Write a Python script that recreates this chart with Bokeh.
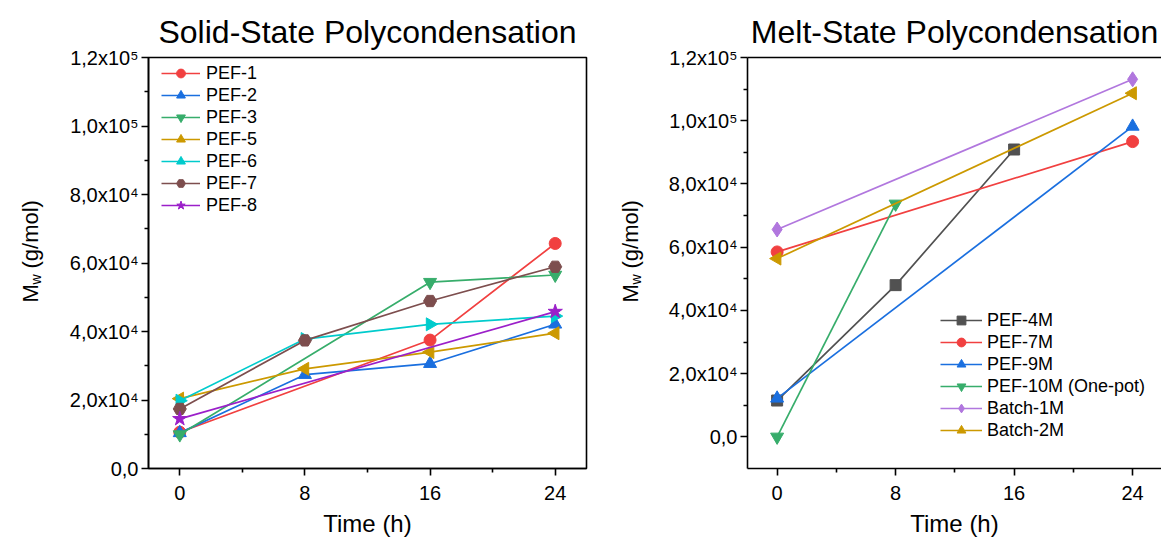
import math
from bokeh.plotting import figure
from bokeh.models import (FixedTicker, Legend, LegendItem, Label, LinearAxis, Range1d)
from bokeh.layouts import row
from bokeh.embed import file_html
from bokeh.resources import INLINE

FONT = "Liberation Sans"

# ---------------- data: Solid-State Polycondensation ----------------
pef1_t = [0, 16, 24]
pef1_mw = [10600, 37500, 65700]
pef2_t = [0, 8, 16, 24]
pef2_mw = [10400, 27400, 30600, 42100]
pef3_t = [0, 16, 24]
pef3_mw = [9900, 54400, 56500]
pef5_t = [0, 8, 16, 24]
pef5_mw = [20400, 29100, 34000, 39500]
pef6_t = [0, 8, 16, 24]
pef6_mw = [19800, 37800, 42100, 44500]
pef7_t = [0, 8, 16, 24]
pef7_mw = [17400, 37400, 48900, 58900]
pef8_t = [0, 24]
pef8_mw = [14500, 45800]

# ---------------- data: Melt-State Polycondensation ----------------
pef4m_t = [0, 8, 16]
pef4m_mw = [11500, 48000, 90900]
pef7m_t = [0, 24]
pef7m_mw = [58500, 93400]
pef9m_t = [0, 24]
pef9m_mw = [12200, 98200]
pef10m_t = [0, 8]
pef10m_mw = [0, 73700]
batch1m_t = [0, 24]
batch1m_mw = [65600, 113100]
batch2m_t = [0, 24]
batch2m_mw = [56400, 108700]

x_ticks = [0, 8, 16, 24]
x_minor = [4, 12, 20]
y_ticks = [0, 20000, 40000, 60000, 80000, 100000, 120000]
y_minor = [10000, 30000, 50000, 70000, 90000, 110000]
y_labels = ["0,0", "2,0x10\u2074", "4,0x10\u2074", "6,0x10\u2074",
            "8,0x10\u2074", "1,0x10\u2075", "1,2x10\u2075"]

left_series = [
    ("PEF-1", pef1_t, pef1_mw, "#F14040", "circle", 0, 12),
    ("PEF-2", pef2_t, pef2_mw, "#1A6FDF", "triangle", 0, 13),
    ("PEF-3", pef3_t, pef3_mw, "#37AD6B", "inverted_triangle", 0, 13),
    ("PEF-5", pef5_t, pef5_mw, "#CC9900", "triangle", math.pi / 2, 13),
    ("PEF-6", pef6_t, pef6_mw, "#00CBCC", "triangle", -math.pi / 2, 13),
    ("PEF-7", pef7_t, pef7_mw, "#7D4E4E", "hex", 0, 13),
    ("PEF-8", pef8_t, pef8_mw, "#9B1FC9", "star", 0, 15),
]
right_series = [
    ("PEF-4M", pef4m_t, pef4m_mw, "#515151", "square", 0, 11),
    ("PEF-7M", pef7m_t, pef7m_mw, "#F14040", "circle", 0, 12),
    ("PEF-9M", pef9m_t, pef9m_mw, "#1A6FDF", "triangle", 0, 13),
    ("PEF-10M (One-pot)", pef10m_t, pef10m_mw, "#37AD6B", "inverted_triangle", 0, 13),
    ("Batch-1M", batch1m_t, batch1m_mw, "#B177DE", "diamond", 0, 15),
    ("Batch-2M", batch2m_t, batch2m_mw, "#CC9900", "triangle", math.pi / 2, 13),
]

H = 540


def style_axis(ax, ticks, minor):
    ax.ticker = FixedTicker(ticks=ticks, minor_ticks=minor)
    ax.axis_line_color = "black"
    ax.axis_line_width = 1.6
    ax.major_tick_line_color = "black"
    ax.major_tick_line_width = 1.6
    ax.minor_tick_line_color = "black"
    ax.minor_tick_line_width = 1.6
    ax.major_tick_in = 0
    ax.major_tick_out = 7
    ax.minor_tick_in = 0
    ax.minor_tick_out = 4
    ax.major_label_text_font = FONT
    ax.major_label_text_font_size = "20px"
    ax.major_label_text_color = "black"
    ax.axis_label_text_font = FONT
    ax.axis_label_text_font_size = "24px"
    ax.axis_label_text_font_style = "normal"
    ax.axis_label_text_color = "black"


def make_fig(width, title, x_end, y_start, mb_left, mb_right, mb_top, mb_bottom):
    p = figure(width=width, height=H, x_range=Range1d(-2, x_end),
               y_range=Range1d(y_start, 120000), output_backend="svg",
               toolbar_location=None, min_border_left=mb_left,
               min_border_right=mb_right, min_border_top=mb_top,
               min_border_bottom=mb_bottom, title=title)
    p.grid.visible = False
    p.title.text_font = FONT
    p.title.text_font_size = "32px"
    p.title.text_font_style = "normal"
    p.title.text_color = "black"
    p.title.align = "center"
    p.title.standoff = 16
    p.background_fill_color = "white"
    p.border_fill_color = "white"
    style_axis(p.xaxis[0], x_ticks, x_minor)
    style_axis(p.yaxis[0], y_ticks, y_minor)
    p.yaxis[0].major_label_overrides = {t: s for t, s in zip(y_ticks, y_labels)}
    p.yaxis[0].major_label_standoff = 3
    p.xaxis[0].major_label_standoff = 10
    p.xaxis[0].axis_label = "Time (h)"
    p.xaxis[0].axis_label_standoff = 7
    return p


def add_series(p, series):
    items = []
    for name, t, mw, color, marker, ang, size in series:
        ln = p.line(t, mw, line_color=color, line_width=1.7)
        sc = p.scatter(t, mw, marker=marker, size=size, angle=ang,
                       fill_color=color, line_color=color)
        items.append(LegendItem(label=name, renderers=[ln, sc]))
    return items


def style_legend(lg):
    lg.border_line_color = None
    lg.background_fill_alpha = 0
    lg.label_text_font = FONT
    lg.label_text_font_size = "18px"
    lg.label_text_color = "black"
    lg.label_height = 22
    lg.glyph_height = 22
    lg.spacing = 0
    lg.padding = 3
    lg.margin = 0


def ylabel_fig(width, xs, ys):
    """Narrow strip holding the rotated 'M_w (g/mol)' axis title."""
    f = figure(width=width, height=H, x_range=Range1d(0, width),
               y_range=Range1d(0, H), output_backend="svg",
               toolbar_location=None, x_axis_location=None,
               y_axis_location=None, min_border=0)
    f.grid.visible = False
    f.outline_line_color = None
    f.background_fill_color = "white"
    f.border_fill_color = "white"
    common = dict(x_units="screen", y_units="screen", angle=math.pi / 2,
                  text_font=FONT, text_color="black", text_align="left",
                  text_baseline="middle")
    f.add_layout(Label(x=xs, y=ys, text="M", text_font_size="22px", **common))
    f.add_layout(Label(x=xs, y=ys, text="w", text_font_size="14px",
                       x_offset=5, y_offset=18, **common))
    f.add_layout(Label(x=xs, y=ys, text="(g/mol)", text_font_size="22px",
                       y_offset=34, **common))
    return f


# ---------------- left figure ----------------
lab1 = ylabel_fig(50, 30, 166)
p1 = make_fig(550, "Solid-State Polycondensation", 26, 0, 98, 14, 57, 71)
p1.outline_line_color = "black"
p1.outline_line_width = 1.6
p1.outline_line_alpha = 1
items1 = add_series(p1, left_series)
lg1 = Legend(items=items1, location=(13, 252))
style_legend(lg1)
lg1.glyph_width = 39
lg1.label_standoff = 6
p1.add_layout(lg1)

# ---------------- right figure ----------------
lab2 = ylabel_fig(50, 30, 166)
p2 = make_fig(511, "Melt-State Polycondensation", 25.95, -10000, 97, 0, 54, 72)
p2.outline_line_color = None
top_ax = LinearAxis(ticker=FixedTicker(ticks=[]), axis_line_color="black",
                    axis_line_width=1.6, major_tick_out=0, major_tick_in=0,
                    minor_tick_out=0, minor_tick_in=0)
p2.add_layout(top_ax, "above")
items2 = add_series(p2, right_series)
lg2 = Legend(items=items2, location=(193, 27))
style_legend(lg2)
lg2.glyph_width = 42
lg2.label_standoff = 5
p2.add_layout(lg2)

layout = row(lab1, p1, lab2, p2)
open("out.html", "w").write(file_html(layout, INLINE))
